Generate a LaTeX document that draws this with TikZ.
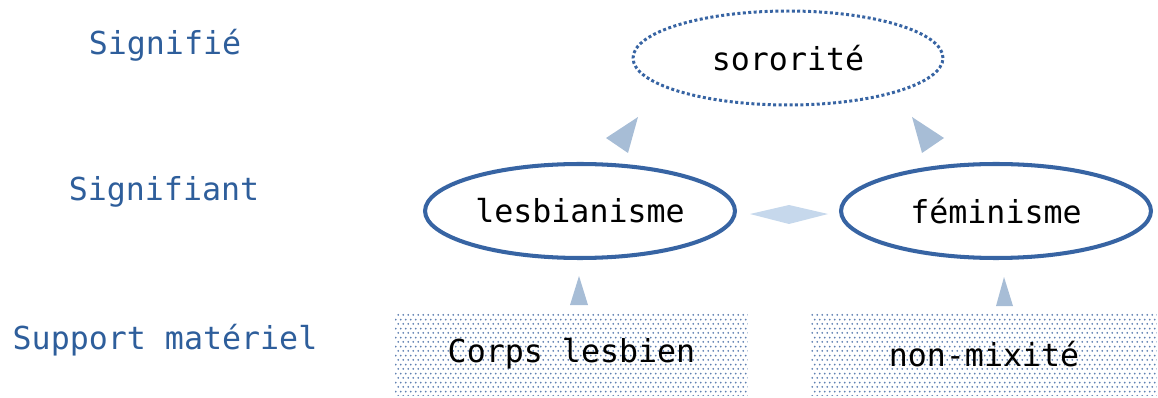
\documentclass[tikz,border=0pt]{standalone}
\usepackage{fontspec}
\setmonofont{DejaVu Sans Mono}
\usetikzlibrary{shapes.geometric,patterns}

\definecolor{lineblue}{RGB}{55,100,163}
\definecolor{textblue}{RGB}{46,94,155}
\definecolor{headblue}{RGB}{167,189,214}
\definecolor{paleblue}{RGB}{198,216,236}
\definecolor{dotblue}{RGB}{95,128,178}

% staggered dots for the material supports
\pgfdeclarepatternformonly{matdots}{\pgfpointorigin}{\pgfqpoint{3.1pt}{5pt}}{\pgfqpoint{3.1pt}{5pt}}{%
  \pgfpathcircle{\pgfqpoint{0.8pt}{1.25pt}}{0.6pt}
  \pgfpathcircle{\pgfqpoint{2.35pt}{3.75pt}}{0.6pt}
  \pgfusepath{fill}}

\tikzset{
  level/.style={text=textblue, font=\ttfamily\fontsize{18}{20}\selectfont},
  concept/.style={ellipse, draw=lineblue, line width=2.3pt, inner sep=0pt,
    minimum width=6.2cm, minimum height=1.88cm, font=\ttfamily\fontsize{18}{20}\selectfont},
  support/.style={rectangle, pattern=matdots, pattern color=dotblue, inner sep=0pt,
    font=\ttfamily\fontsize{18}{20}\selectfont},
  head/.style={fill=headblue},
}

\begin{document}
\begin{tikzpicture}[x=0.02cm, y=-0.02cm]
\useasboundingbox (0,0) rectangle (1158,398);

  % Levels
  \node[level] (signifie) at (165,45) {Signifié};
  \node[level] (signifiant) at (164,192) {Signifiant};
  \node[level] (materiel) at (165,340) {Support matériel};

  % Concepts
  \node[concept, line width=1.7pt, dash pattern=on 1.7pt off 1.4pt] (sororite) at (788,58) {sororité};
  \node[concept] (lesbianisme) at (580,211) {lesbianisme};
  \node[concept] (feminisme) at (996,211) {féminisme};

  % Supports
  \node[support, minimum width=7.06cm, minimum height=1.68cm] (corps) at (571.5,354) {Corps lesbien};
  \node[support, minimum width=6.92cm, minimum height=1.68cm] (mixite) at (984,354) {non-mixité};

  % Heads
  \fill[head] (606,138) -- (638,117) -- (628,153) -- cycle;
  \fill[head] (944,138) -- (912,117) -- (922,153) -- cycle;
  \fill[head] (570,305) -- (579,276) -- (588,305) -- cycle;
  \fill[head] (996,306) -- (1004,277) -- (1013,306) -- cycle;
  \fill[paleblue] (750,214) -- (789,205) -- (828,214) -- (789,224) -- cycle;
\end{tikzpicture}
\end{document}
